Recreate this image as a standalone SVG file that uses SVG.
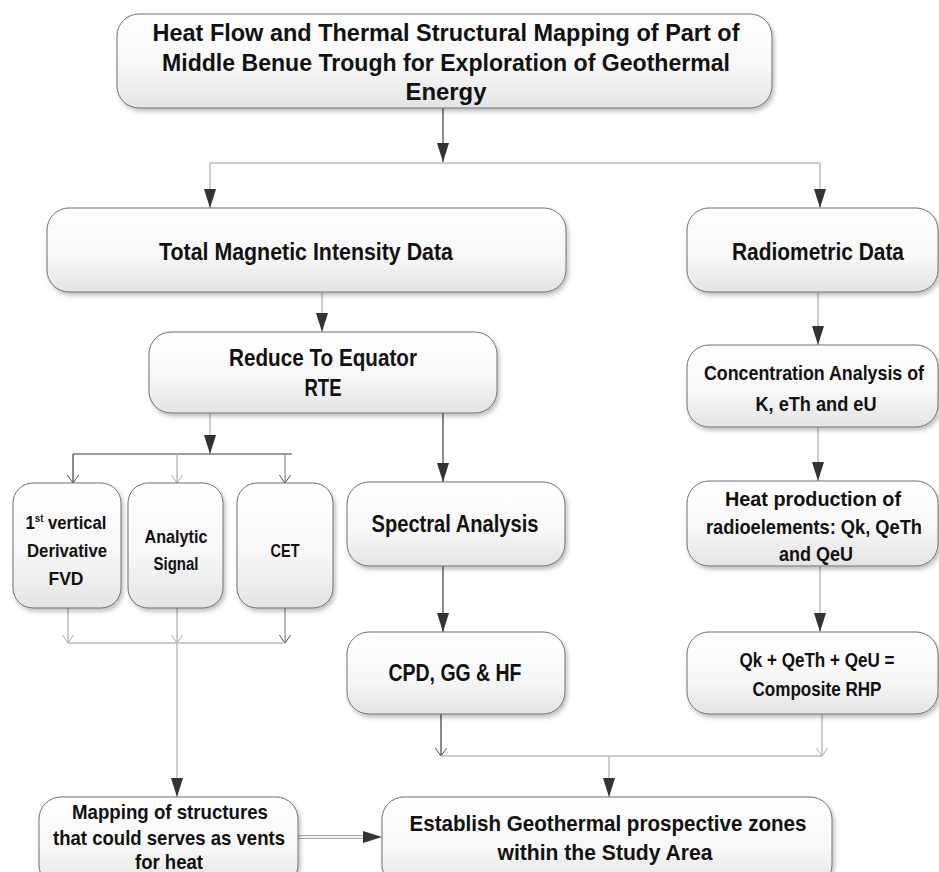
<svg xmlns="http://www.w3.org/2000/svg" width="939" height="872" viewBox="0 0 939 872">
<defs>
  <linearGradient id="g" x1="0" y1="0" x2="0" y2="1">
    <stop offset="0" stop-color="#ffffff"/>
    <stop offset="0.55" stop-color="#f8f8f8"/>
    <stop offset="1" stop-color="#e4e4e4"/>
  </linearGradient>
  <filter id="sh" x="-10%" y="-10%" width="125%" height="130%">
    <feDropShadow dx="2" dy="3" stdDeviation="2" flood-color="#000" flood-opacity="0.25"/>
  </filter>
  <marker id="tri" viewBox="0 0 19 12" refX="19" refY="6" markerWidth="19" markerHeight="12" markerUnits="userSpaceOnUse" orient="auto">
    <path d="M0,0 L19,6 L0,12 z" fill="#333"/>
  </marker>
  <marker id="vd" viewBox="0 0 9 12" refX="8.5" refY="6" markerWidth="9" markerHeight="12" markerUnits="userSpaceOnUse" orient="auto">
    <path d="M0,0 L8.5,6 L0,12" fill="none" stroke="#555" stroke-width="1"/>
  </marker>
  <marker id="vl" viewBox="0 0 9 12" refX="8.5" refY="6" markerWidth="9" markerHeight="12" markerUnits="userSpaceOnUse" orient="auto">
    <path d="M0,0 L8.5,6 L0,12" fill="none" stroke="#aaa" stroke-width="1"/>
  </marker>
</defs>
<style>
  .box { fill: url(#g); stroke: #707070; stroke-width: 1; filter: url(#sh); }
  .t { font-family: "Liberation Sans", Arial, sans-serif; font-weight: bold; fill: #111; text-anchor: middle; }
  .dk { fill: none; stroke: #3a3a3a; stroke-width: 1.2; }
  .lt { fill: none; stroke: #bdbdbd; stroke-width: 1.5; }
  .md { fill: none; stroke: #8a8a8a; stroke-width: 1.2; }
</style>
<rect width="939" height="872" fill="#fff"/>

<g id="connectors">
  <path class="dk" d="M443,108 V162" marker-end="url(#tri)"/>
  <path class="lt" d="M210,163 H820"/>
  <path class="lt" d="M210,163 V208" marker-end="url(#tri)"/>
  <path class="lt" d="M820,163 V208" marker-end="url(#tri)"/>
  <path class="lt" d="M322,292 V332" marker-end="url(#tri)"/>
  <path class="lt" d="M818,292 V345" marker-end="url(#tri)"/>
  <path class="lt" d="M210,413 V454" marker-end="url(#tri)"/>
  <path class="dk" d="M73,454 H292"/>
  <path class="dk" d="M73,454 V483" marker-end="url(#vd)"/>
  <path class="lt" d="M177,454 V483" marker-end="url(#vl)"/>
  <path class="md" d="M285,454 V483" marker-end="url(#vd)"/>
  <path class="dk" d="M443,413 V482" marker-end="url(#tri)"/>
  <path class="lt" d="M818,427 V481" marker-end="url(#tri)"/>
  <path class="lt" d="M68,608 V643" marker-end="url(#vl)"/>
  <path class="lt" d="M177,608 V643" marker-end="url(#vl)"/>
  <path class="md" d="M285,608 V643" marker-end="url(#vd)"/>
  <path class="lt" d="M68,643 H285"/>
  <path class="lt" d="M177,643 V797" marker-end="url(#tri)"/>
  <path class="dk" d="M443,566 V632" marker-end="url(#tri)"/>
  <path class="lt" d="M820,566 V632" marker-end="url(#tri)"/>
  <path class="dk" d="M441,714 V756" marker-end="url(#vd)"/>
  <path class="lt" d="M822,714 V756" marker-end="url(#vl)"/>
  <path class="lt" d="M441,756 H822"/>
  <path class="lt" d="M609,756 V797" marker-end="url(#tri)"/>
  <path d="M298,837 H364" fill="none" stroke="#aaa" stroke-width="4"/>
  <path d="M298,837 H364" fill="none" stroke="#f2f2f2" stroke-width="2"/>
  <path d="M362,837 H382" fill="none" stroke="none" marker-end="url(#tri)"/>
</g>

<g id="n-title">
  <rect class="box" x="117" y="14" width="655" height="94" rx="22"/>
  <text class="t" font-size="23" x="446" y="41" textLength="587" lengthAdjust="spacingAndGlyphs">Heat Flow and Thermal Structural Mapping of Part of</text>
  <text class="t" font-size="23" x="446" y="71" textLength="568" lengthAdjust="spacingAndGlyphs">Middle Benue Trough for Exploration of Geothermal</text>
  <text class="t" font-size="23" x="446" y="100" textLength="81" lengthAdjust="spacingAndGlyphs">Energy</text>
</g>

<g id="n-tmi">
  <rect class="box" x="47" y="208" width="519" height="84" rx="22"/>
  <text class="t" font-size="23" x="306" y="260" textLength="294" lengthAdjust="spacingAndGlyphs">Total Magnetic Intensity Data</text>
</g>

<g id="n-radio">
  <rect class="box" x="687" y="208" width="251" height="84" rx="22"/>
  <text class="t" font-size="23" x="818" y="260" textLength="172" lengthAdjust="spacingAndGlyphs">Radiometric Data</text>
</g>

<g id="n-rte">
  <rect class="box" x="149" y="332" width="348" height="81" rx="22"/>
  <text class="t" font-size="23" x="323" y="366" textLength="188" lengthAdjust="spacingAndGlyphs">Reduce To Equator</text>
  <text class="t" font-size="23" x="323" y="396" textLength="37" lengthAdjust="spacingAndGlyphs">RTE</text>
</g>

<g id="n-conc">
  <rect class="box" x="687" y="345" width="251" height="82" rx="22"/>
  <text class="t" font-size="21" x="814" y="380" textLength="220" lengthAdjust="spacingAndGlyphs">Concentration Analysis of</text>
  <text class="t" font-size="21" x="816" y="411" textLength="121" lengthAdjust="spacingAndGlyphs">K, eTh and eU</text>
</g>

<g id="n-fvd">
  <rect class="box" x="13" y="483" width="108" height="125" rx="20"/>
  <text class="t" font-size="19" x="66" y="529" textLength="81" lengthAdjust="spacingAndGlyphs">1<tspan font-size="11" dy="-7">st</tspan><tspan dy="7"> vertical</tspan></text>
  <text class="t" font-size="19" x="67" y="557" textLength="80" lengthAdjust="spacingAndGlyphs">Derivative</text>
  <text class="t" font-size="19" x="66" y="585" textLength="35" lengthAdjust="spacingAndGlyphs">FVD</text>
</g>

<g id="n-analytic">
  <rect class="box" x="128" y="483" width="95" height="125" rx="20"/>
  <text class="t" font-size="19" x="176" y="543" textLength="63" lengthAdjust="spacingAndGlyphs">Analytic</text>
  <text class="t" font-size="19" x="176" y="570" textLength="45" lengthAdjust="spacingAndGlyphs">Signal</text>
</g>

<g id="n-cet">
  <rect class="box" x="237" y="483" width="96" height="125" rx="20"/>
  <text class="t" font-size="19" x="285" y="557" textLength="29" lengthAdjust="spacingAndGlyphs">CET</text>
</g>

<g id="n-spectral">
  <rect class="box" x="347" y="482" width="218" height="84" rx="22"/>
  <text class="t" font-size="23" x="455" y="532" textLength="167" lengthAdjust="spacingAndGlyphs">Spectral Analysis</text>
</g>

<g id="n-heat">
  <rect class="box" x="687" y="481" width="251" height="85" rx="22"/>
  <text class="t" font-size="21" x="813" y="506" textLength="176" lengthAdjust="spacingAndGlyphs">Heat production of</text>
  <text class="t" font-size="21" x="814" y="534" textLength="216" lengthAdjust="spacingAndGlyphs">radioelements: Qk, QeTh</text>
  <text class="t" font-size="21" x="816" y="561" textLength="74" lengthAdjust="spacingAndGlyphs">and QeU</text>
</g>

<g id="n-cpd">
  <rect class="box" x="347" y="632" width="218" height="82" rx="22"/>
  <text class="t" font-size="23" x="455" y="681" textLength="133" lengthAdjust="spacingAndGlyphs">CPD, GG &amp; HF</text>
</g>

<g id="n-composite">
  <rect class="box" x="687" y="632" width="251" height="82" rx="22"/>
  <text class="t" font-size="21" x="817" y="667" textLength="155" lengthAdjust="spacingAndGlyphs">Qk + QeTh + QeU =</text>
  <text class="t" font-size="21" x="817" y="696" textLength="129" lengthAdjust="spacingAndGlyphs">Composite RHP</text>
</g>

<g id="n-mapping">
  <rect class="box" x="39" y="797" width="259" height="90" rx="22"/>
  <text class="t" font-size="21" x="170" y="819" textLength="196" lengthAdjust="spacingAndGlyphs">Mapping of structures</text>
  <text class="t" font-size="21" x="169" y="845" textLength="232" lengthAdjust="spacingAndGlyphs">that could serves as vents</text>
  <text class="t" font-size="21" x="169" y="869" textLength="68" lengthAdjust="spacingAndGlyphs">for heat</text>
</g>

<g id="n-establish">
  <rect class="box" x="382" y="797" width="450" height="90" rx="22"/>
  <text class="t" font-size="22" x="608" y="831" textLength="397" lengthAdjust="spacingAndGlyphs">Establish Geothermal prospective zones</text>
  <text class="t" font-size="22" x="605" y="860" textLength="215" lengthAdjust="spacingAndGlyphs">within the Study Area</text>
</g>
</svg>
